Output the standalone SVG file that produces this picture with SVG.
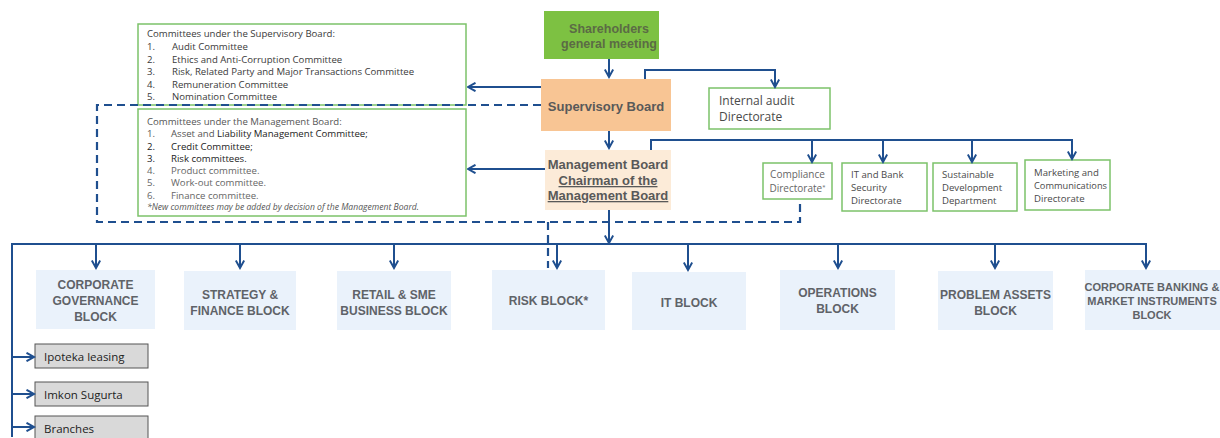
<svg xmlns="http://www.w3.org/2000/svg" width="1220" height="438" viewBox="0 0 1220 438">
<style>
.conn{fill:none;stroke:#1f4f8f;stroke-width:2}
.dash{fill:none;stroke:#1f4f8f;stroke-width:2.2;stroke-dasharray:8 5}
.gbox{fill:#fff;stroke:#7cc26a;stroke-width:1.5}
.blk{fill:#eaf2fb}
.blkt{font-family:"Liberation Sans",Arial,sans-serif;font-weight:bold;font-size:12px;fill:#5f6368;text-anchor:middle}
.small{font-family:"Open Sans","Noto Sans",sans-serif;font-size:9.6px;fill:#3a3a3a}
.dir{font-family:"Open Sans","Noto Sans",sans-serif;font-size:9.6px;fill:#4a4a4a}
.bold{font-family:"Liberation Sans",Arial,sans-serif;font-weight:bold;font-size:13px;fill:#595959;text-anchor:middle}
.sub{fill:#d9d9d9;stroke:#555;stroke-width:1}
.subt{font-family:"Open Sans","Noto Sans",sans-serif;font-size:11.5px;fill:#222}
</style>
<defs>
<marker id="ah" viewBox="0 0 10 10" refX="8.5" refY="5" markerWidth="10" markerHeight="10" markerUnits="userSpaceOnUse" orient="auto">
<path d="M1,0.8 L8.5,5 L1,9.2" fill="none" stroke="#1f4f8f" stroke-width="2"/>
</marker>
</defs>

<g id="shareholders">
<rect x="544" y="11" width="115" height="48" fill="#7dc142"/>
<text class="bold" x="609" y="33" style="fill:#5b6b45;font-size:12.5px">Shareholders</text>
<text class="bold" x="609" y="48" style="fill:#5b6b45;font-size:12.5px">general meeting</text>
</g>

<g id="supervisory-board">
<rect x="541" y="79" width="130" height="52" fill="#f8c594"/>
<text class="bold" x="606" y="111">Supervisory Board</text>
</g>

<g id="management-board">
<rect x="545" y="150" width="126" height="60" fill="#fcebd8"/>
<text class="bold" x="608" y="169">Management Board</text>
<text class="bold" x="608" y="185" text-decoration="underline">Chairman of the</text>
<text class="bold" x="608" y="200" text-decoration="underline">Management Board</text>
</g>

<g id="internal-audit">
<rect class="gbox" x="709" y="88" width="121" height="41"/>
<text class="dir" x="719" y="105" style="font-size:12px">Internal audit</text>
<text class="dir" x="719" y="121" style="font-size:12px">Directorate</text>
</g>

<g id="supervisory-committees">
<rect class="gbox" x="138" y="24" width="328" height="81"/>
<text class="small" x="147" y="37">Committees under the Supervisory Board:</text>
<text class="small" x="147" y="50">1.</text><text class="small" x="172" y="50">Audit Committee</text>
<text class="small" x="147" y="62.5">2.</text><text class="small" x="172" y="62.5">Ethics and Anti-Corruption Committee</text>
<text class="small" x="147" y="75">3.</text><text class="small" x="172" y="75">Risk, Related Party and Major Transactions Committee</text>
<text class="small" x="147" y="87.5">4.</text><text class="small" x="172" y="87.5">Remuneration Committee</text>
<text class="small" x="147" y="100">5.</text><text class="small" x="172" y="100">Nomination Committee</text>
</g>

<g id="management-committees">
<rect class="gbox" x="138" y="109" width="328" height="107"/>
<text class="small" x="147" y="124.5" style="fill:#555">Committees under the Management Board:</text>
<text class="small" x="147" y="137" style="fill:#555">1.</text><text class="small" x="171" y="137"><tspan style="fill:#555">Asset and </tspan><tspan style="fill:#222">Liability Management Committee;</tspan></text>
<text class="small" x="147" y="149.5" style="fill:#222">2.</text><text class="small" x="171" y="149.5" style="fill:#222">Credit Committee;</text>
<text class="small" x="147" y="161.5" style="fill:#222">3.</text><text class="small" x="171" y="161.5" style="fill:#222">Risk committees.</text>
<text class="small" x="147" y="174" style="fill:#666">4.</text><text class="small" x="171" y="174" style="fill:#666">Product committee.</text>
<text class="small" x="147" y="186" style="fill:#666">5.</text><text class="small" x="171" y="186" style="fill:#666">Work-out committee.</text>
<text class="small" x="147" y="198.5" style="fill:#666">6.</text><text class="small" x="171" y="198.5" style="fill:#666">Finance committee.</text>
<text class="small" x="147" y="210" style="fill:#555;font-size:8.6px;font-style:italic">*New committees may be added by decision of the Management Board.</text>
</g>

<g id="compliance">
<rect class="gbox" x="763" y="163" width="69" height="36"/>
<text class="dir" x="797.5" y="178" text-anchor="middle" style="fill:#666;font-size:10px">Compliance</text>
<text class="dir" x="797.5" y="192" text-anchor="middle" style="fill:#666;font-size:10px">Directorate<tspan style="font-size:6px" dy="-3">*</tspan></text>
</g>
<g id="it-security">
<rect class="gbox" x="842" y="163" width="85" height="48"/>
<text class="dir" x="851" y="178">IT and Bank</text>
<text class="dir" x="851" y="191">Security</text>
<text class="dir" x="851" y="204">Directorate</text>
</g>
<g id="sustainable">
<rect class="gbox" x="933" y="163" width="84" height="48"/>
<text class="dir" x="942" y="178">Sustainable</text>
<text class="dir" x="942" y="191">Development</text>
<text class="dir" x="942" y="204">Department</text>
</g>
<g id="marketing">
<rect class="gbox" x="1025" y="160" width="85" height="50"/>
<text class="dir" x="1034" y="176">Marketing and</text>
<text class="dir" x="1034" y="189" textLength="73" lengthAdjust="spacingAndGlyphs">Communications</text>
<text class="dir" x="1034" y="202">Directorate</text>
</g>

<g id="corp-gov-block">
<rect class="blk" x="36" y="270" width="119" height="59"/>
<text class="blkt" x="95.5" y="289">CORPORATE</text>
<text class="blkt" x="95.5" y="305">GOVERNANCE</text>
<text class="blkt" x="95.5" y="321">BLOCK</text>
</g>
<g id="strategy-block">
<rect class="blk" x="184" y="271" width="112" height="59"/>
<text class="blkt" x="240" y="299">STRATEGY &amp;</text>
<text class="blkt" x="240" y="315">FINANCE BLOCK</text>
</g>
<g id="retail-block">
<rect class="blk" x="337" y="271" width="114" height="59"/>
<text class="blkt" x="394" y="299">RETAIL &amp; SME</text>
<text class="blkt" x="394" y="315">BUSINESS BLOCK</text>
</g>
<g id="risk-block">
<rect class="blk" x="492" y="270" width="113" height="60"/>
<text class="blkt" x="548.5" y="305">RISK BLOCK*</text>
</g>
<g id="it-block">
<rect class="blk" x="632" y="272" width="114" height="58"/>
<text class="blkt" x="689" y="307">IT BLOCK</text>
</g>
<g id="operations-block">
<rect class="blk" x="780" y="270" width="115" height="60"/>
<text class="blkt" x="837.5" y="297">OPERATIONS</text>
<text class="blkt" x="837.5" y="313">BLOCK</text>
</g>
<g id="problem-assets-block">
<rect class="blk" x="938" y="271" width="115" height="59"/>
<text class="blkt" x="995.5" y="299">PROBLEM ASSETS</text>
<text class="blkt" x="995.5" y="315">BLOCK</text>
</g>
<g id="corp-banking-block">
<rect class="blk" x="1085" y="270" width="135" height="60"/>
<text class="blkt" x="1152" y="291" style="font-size:11px">CORPORATE BANKING &amp;</text>
<text class="blkt" x="1152" y="305" style="font-size:11px">MARKET INSTRUMENTS</text>
<text class="blkt" x="1152" y="319" style="font-size:11px">BLOCK</text>
</g>

<g id="ipoteka">
<rect class="sub" x="35" y="344" width="113" height="24"/>
<text class="subt" x="44" y="361">Ipoteka leasing</text>
</g>
<g id="imkon">
<rect class="sub" x="35" y="382" width="113" height="24"/>
<text class="subt" x="44" y="399">Imkon Sugurta</text>
</g>
<g id="branches">
<rect class="sub" x="35" y="416" width="113" height="30"/>
<text class="subt" x="44" y="433">Branches</text>
</g>

<g id="connectors">
<path class="conn" d="M609,59 V77" marker-end="url(#ah)"/>
<path class="conn" d="M645,79 V70 H775 V87" marker-end="url(#ah)"/>
<path class="conn" d="M541,87 H468" marker-end="url(#ah)"/>
<path class="conn" d="M609,131 V148" marker-end="url(#ah)"/>
<path class="conn" d="M545,169 H468" marker-end="url(#ah)"/>
<path class="conn" d="M651,150 V140 H1072 V159" marker-end="url(#ah)"/>
<path class="conn" d="M812,140 V162" marker-end="url(#ah)"/>
<path class="conn" d="M883,140 V162" marker-end="url(#ah)"/>
<path class="conn" d="M972,140 V162" marker-end="url(#ah)"/>
<path class="conn" d="M609,210 V243" marker-end="url(#ah)"/>
<path class="dash" d="M541,105 H97 V222 H800 V199"/>
<path class="dash" d="M548,222 V268"/>
<path class="conn" d="M12,437 V244 H1146 V268" marker-end="url(#ah)"/>
<path class="conn" d="M96,244 V268" marker-end="url(#ah)"/>
<path class="conn" d="M240,244 V268" marker-end="url(#ah)"/>
<path class="conn" d="M394,244 V268" marker-end="url(#ah)"/>
<path class="conn" d="M557,244 V268" marker-end="url(#ah)"/>
<path class="conn" d="M688,244 V270" marker-end="url(#ah)"/>
<path class="conn" d="M838,244 V268" marker-end="url(#ah)"/>
<path class="conn" d="M995,244 V268" marker-end="url(#ah)"/>
<path class="conn" d="M12,357 H34" marker-end="url(#ah)"/>
<path class="conn" d="M12,394 H34" marker-end="url(#ah)"/>
<path class="conn" d="M11,427 H34" marker-end="url(#ah)"/>
</g>
</svg>
